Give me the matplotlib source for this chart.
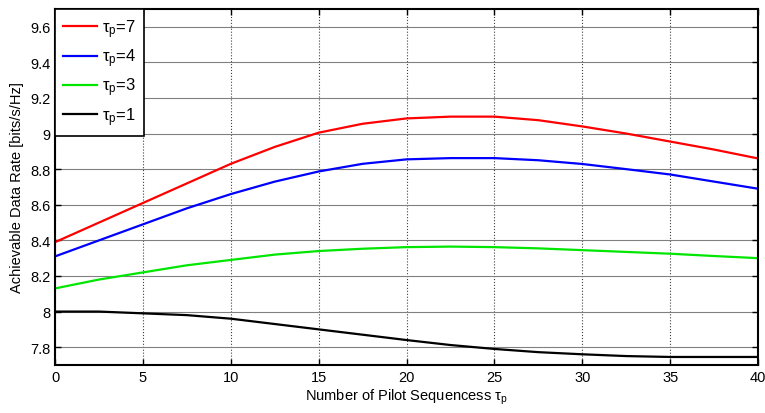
import numpy as np
import matplotlib.pyplot as plt

plt.rcParams['font.family'] = ['Liberation Sans', 'DejaVu Sans']
plt.rcParams['mathtext.fontset'] = 'custom'
plt.rcParams['mathtext.rm'] = 'Liberation Sans'
plt.rcParams['mathtext.it'] = 'Liberation Sans'

# pilot sequence count
tau = [0, 2.5, 5, 7.5, 10, 12.5, 15, 17.5, 20, 22.5, 25, 27.5, 30, 32.5, 35, 37.5, 40]

rate_tp7 = [8.39, 8.50, 8.61, 8.72, 8.83, 8.925, 9.005, 9.055, 9.085, 9.095, 9.095, 9.075, 9.04, 9.00, 8.955, 8.91, 8.86]
rate_tp4 = [8.31, 8.40, 8.49, 8.58, 8.66, 8.73, 8.787, 8.83, 8.855, 8.862, 8.862, 8.85, 8.829, 8.80, 8.77, 8.73, 8.69]
rate_tp3 = [8.13, 8.18, 8.22, 8.26, 8.29, 8.32, 8.34, 8.353, 8.362, 8.365, 8.362, 8.355, 8.345, 8.335, 8.325, 8.312, 8.30]
rate_tp1 = [8.00, 8.00, 7.99, 7.98, 7.96, 7.93, 7.90, 7.87, 7.84, 7.812, 7.79, 7.772, 7.76, 7.75, 7.745, 7.745, 7.745]

labels = [r'$\tau_p$=7', r'$\tau_p$=4', r'$\tau_p$=3', r'$\tau_p$=1']
colors = ['#ff0000', '#0000ff', '#00e600', '#000000']

fig = plt.figure(figsize=(7.65, 4.14), dpi=100)
ax = fig.add_axes([0.072, 0.116, 0.919, 0.86])

for y, lab, c in zip([rate_tp7, rate_tp4, rate_tp3, rate_tp1], labels, colors):
    ax.plot(tau, y, color=c, linewidth=1.6, label=lab)

ax.set_xlim(0, 40)
ax.set_ylim(7.7, 9.7)
ax.set_xticks(np.arange(0, 41, 5))
ax.set_yticks([7.8, 8, 8.2, 8.4, 8.6, 8.8, 9, 9.2, 9.4, 9.6])
ax.set_yticklabels(['7.8', '8', '8.2', '8.4', '8.6', '8.8', '9', '9.2', '9.4', '9.6'])

ax.yaxis.grid(True, color='0.5', linestyle='-', linewidth=0.8)
ax.xaxis.grid(True, color='0.25', linestyle=':', linewidth=0.8)
ax.set_axisbelow(True)

ax.tick_params(direction='in', top=True, right=True, labelsize=10.5, length=4, width=1)
for s in ax.spines.values():
    s.set_linewidth(1.5)

ax.set_xlabel(r'Number of Pilot Sequencess $\tau_p$', fontsize=10.5, labelpad=2)
ax.set_ylabel('Achievable Data Rate [bits/s/Hz]', fontsize=10.5, labelpad=4)

leg = ax.legend(loc='upper left', fontsize=12, fancybox=False, framealpha=1,
                edgecolor='black', borderaxespad=0, handlelength=2.0,
                labelspacing=0.4, borderpad=0.5, handletextpad=0.3)
leg.get_frame().set_linewidth(1.2)

fig.savefig('out.png', dpi=100)
